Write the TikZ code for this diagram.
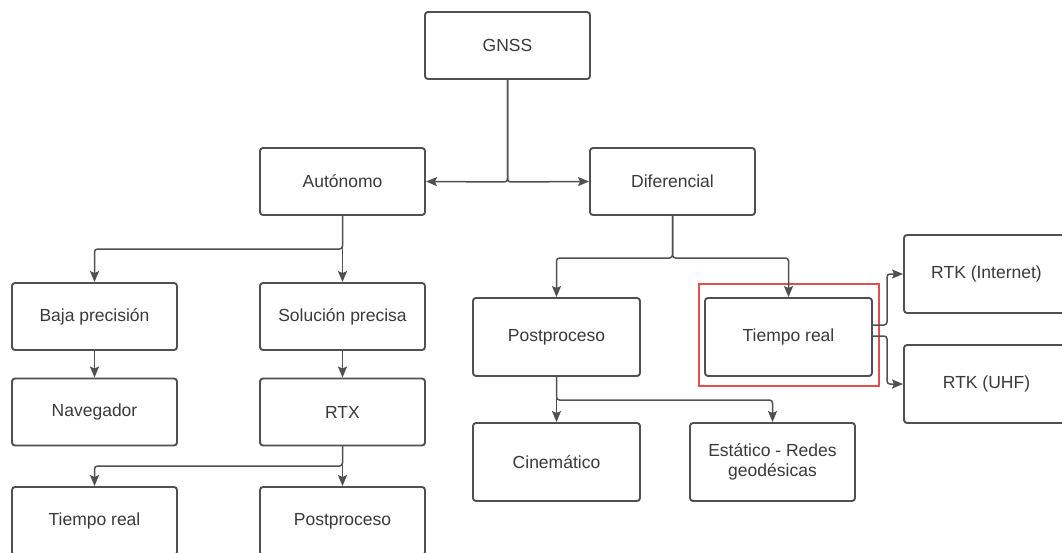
\documentclass[tikz,border=0pt]{standalone}
\usepackage{fontspec}
\setmainfont{Liberation Sans}
\usetikzlibrary{arrows.meta}
\definecolor{ln}{HTML}{505050}
\definecolor{tx}{HTML}{3A3A3A}
\definecolor{hl}{HTML}{E05050}
\tikzset{
  box/.style={draw=ln, line width=1.9pt, rounded corners=3pt, fill=white,
    minimum width=165pt, minimum height=67pt, inner sep=2pt,
    text=tx, font=\fontsize{17.5}{20}\selectfont, align=center},
  conn/.style={draw=ln, line width=1.5pt, rounded corners=3pt,
    -{Stealth[length=11pt,width=9pt,inset=2pt]}},
  hlbox/.style={draw=hl, line width=2.6pt}
}
\begin{document}
\begin{tikzpicture}[x=1pt,y=-1pt]
\useasboundingbox (0,0) rectangle (1062,552);
\clip (0,0) rectangle (1062,552);
\fill[white] (0,0) rectangle (1062,552);
% nodes
\node[box] (gnss) at (507.5,45.5) {GNSS};
\node[box] (auto) at (342.5,181.5) {Autónomo};
\node[box] (dif) at (672.5,181.5) {Diferencial};
\node[box] (baja) at (94.5,316.5) {Baja precisión};
\node[box] (sol) at (342.5,316.5) {Solución precisa};
\node[box] (nav) at (94.5,412) {Navegador};
\node[box] (rtx) at (342.5,412) {RTX};
\node[box, minimum height=68pt] (tr1) at (94.5,521) {Tiempo real};
\node[box, minimum height=68pt] (pp1) at (342.5,521) {Postproceso};
\node[box, minimum width=167pt, minimum height=78pt] (pp2) at (556.5,337) {Postproceso};
\node[box, minimum width=167pt, minimum height=78pt] (tr2) at (788.5,337) {Tiempo real};
\node[box, minimum width=167pt, minimum height=78pt] (cin) at (556.5,462) {Cinemático};
\node[box, minimum height=78pt] (est) at (772.5,462) {Estático - Redes\\geodésicas};
\node[box, minimum height=78pt] (rtki) at (986.5,274) {RTK (Internet)};
\node[box, minimum height=78pt] (rtku) at (986.5,384) {RTK (UHF)};
% highlight
\draw[hlbox] (699,284) rectangle (879,386);
% junction coordinates
\coordinate (j1) at (507.5,182);
\coordinate (j2) at (342.5,249);
\coordinate (j3) at (342.5,466);
\coordinate (j4) at (672.5,258);
\coordinate (j5) at (556.5,400);
\coordinate (j6) at (887,325);
\coordinate (j7) at (887,336);
% connectors
\draw[conn] (gnss.south) -- (j1) -- (auto.east);
\draw[conn] (gnss.south) -- (j1) -- (dif.west);
\draw[conn] (auto.south) -- (j2) -| (baja.north);
\draw[conn] (auto.south) -- (sol.north);
\draw[conn] (baja.south) -- (nav.north);
\draw[conn] (sol.south) -- (rtx.north);
\draw[conn] (rtx.south) -- (j3) -| (tr1.north);
\draw[conn] (rtx.south) -- (pp1.north);
\draw[conn] (dif.south) -- (j4) -| (pp2.north);
\draw[conn] (dif.south) -- (j4) -| (tr2.north);
\draw[conn] (pp2.south) -- (j5) -| (est.north);
\draw[conn] (pp2.south) -- (cin.north);
\draw[conn] (tr2.east |- j6) -- (j6) |- (rtki.west);
\draw[conn] (tr2.east |- j7) -- (j7) |- (rtku.west);
\end{tikzpicture}
\end{document}
